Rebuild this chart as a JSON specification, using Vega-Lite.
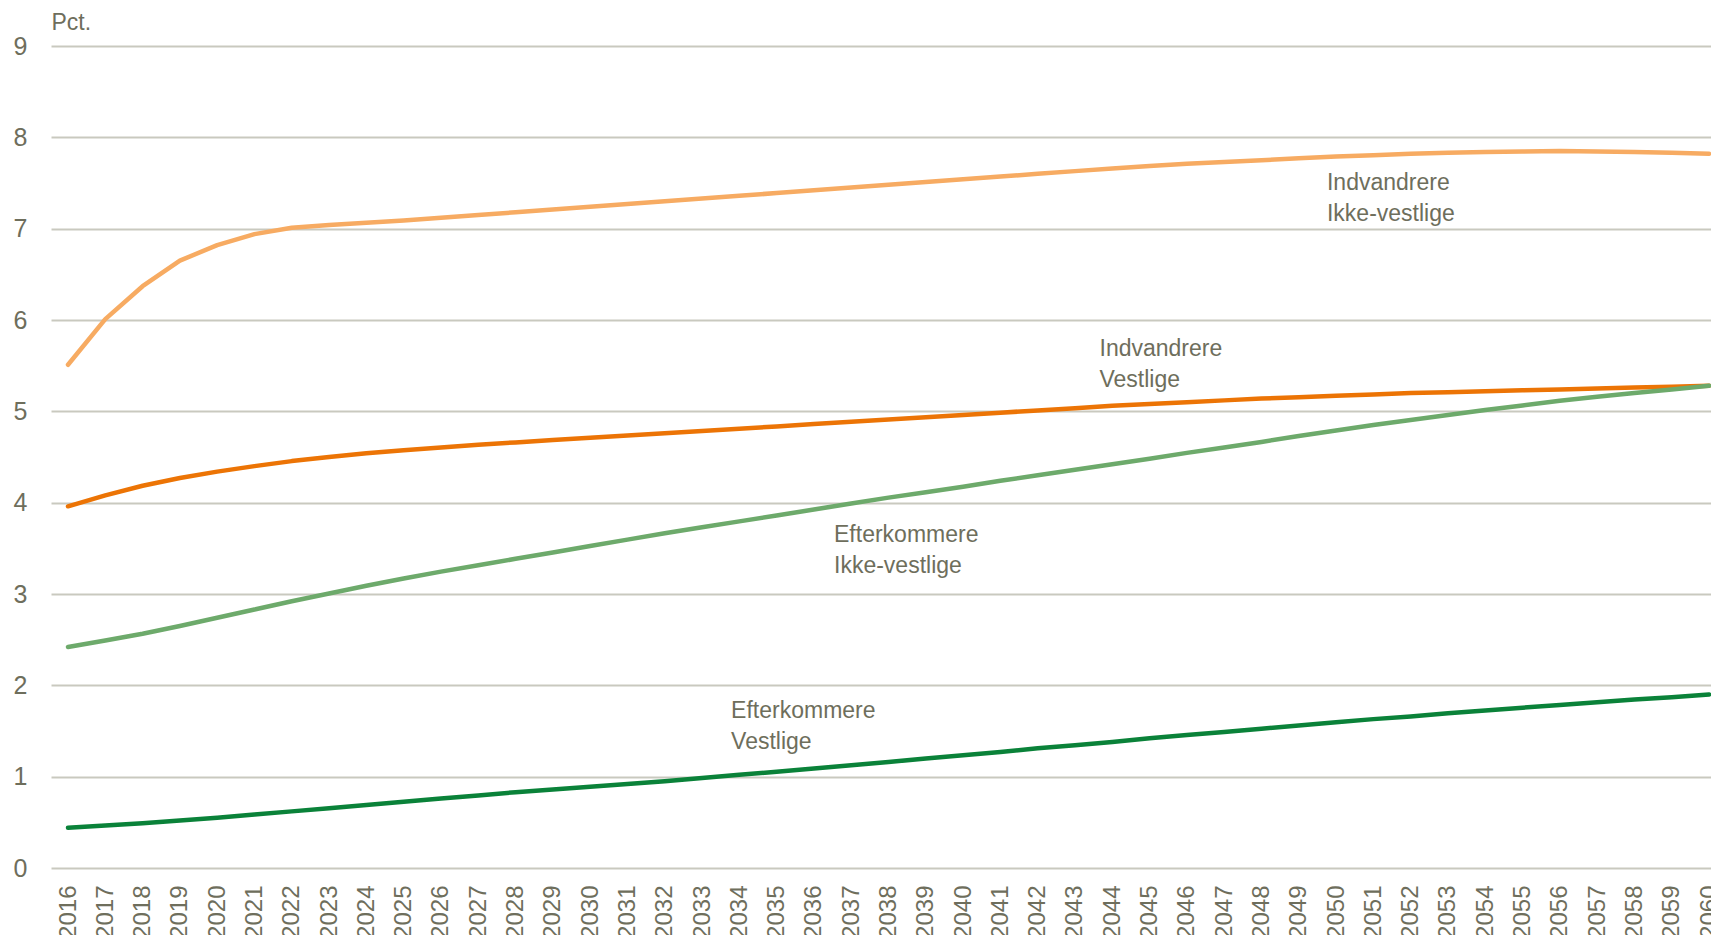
{
  "$schema": "https://vega.github.io/schema/vega-lite/v6.json",
  "autosize": {"type": "none"},
  "padding": {"left": 51, "top": 46, "right": 0, "bottom": 67},
  "width": 1660,
  "height": 822,
  "background": "white",
  "config": {
    "view": {"stroke": null},
    "font": "Liberation Sans Narrow, Arial Narrow, Liberation Sans, sans-serif",
    "axis": {"labelFont": "Liberation Sans Narrow, Arial Narrow, Liberation Sans, sans-serif", "titleFont": "Liberation Sans Narrow, Arial Narrow, Liberation Sans, sans-serif"}
  },
  "resolve": {"scale": {"x": "independent"}, "axis": {"x": "independent"}},
  "datasets": {
    "series": [
      {"year": 2016, "s": "IKV", "v": 5.51}, {"year": 2017, "s": "IKV", "v": 6.01}, {"year": 2018, "s": "IKV", "v": 6.37}, {"year": 2019, "s": "IKV", "v": 6.65}, {"year": 2020, "s": "IKV", "v": 6.82}, {"year": 2021, "s": "IKV", "v": 6.94}, {"year": 2022, "s": "IKV", "v": 7.01}, {"year": 2023, "s": "IKV", "v": 7.04}, {"year": 2024, "s": "IKV", "v": 7.065}, {"year": 2025, "s": "IKV", "v": 7.09}, {"year": 2026, "s": "IKV", "v": 7.12}, {"year": 2027, "s": "IKV", "v": 7.15}, {"year": 2028, "s": "IKV", "v": 7.18}, {"year": 2029, "s": "IKV", "v": 7.21}, {"year": 2030, "s": "IKV", "v": 7.24}, {"year": 2031, "s": "IKV", "v": 7.27}, {"year": 2032, "s": "IKV", "v": 7.30}, {"year": 2033, "s": "IKV", "v": 7.33}, {"year": 2034, "s": "IKV", "v": 7.36}, {"year": 2035, "s": "IKV", "v": 7.39}, {"year": 2036, "s": "IKV", "v": 7.42}, {"year": 2037, "s": "IKV", "v": 7.45}, {"year": 2038, "s": "IKV", "v": 7.48}, {"year": 2039, "s": "IKV", "v": 7.51}, {"year": 2040, "s": "IKV", "v": 7.54}, {"year": 2041, "s": "IKV", "v": 7.57}, {"year": 2042, "s": "IKV", "v": 7.60}, {"year": 2043, "s": "IKV", "v": 7.63}, {"year": 2044, "s": "IKV", "v": 7.66}, {"year": 2045, "s": "IKV", "v": 7.685}, {"year": 2046, "s": "IKV", "v": 7.71}, {"year": 2047, "s": "IKV", "v": 7.73}, {"year": 2048, "s": "IKV", "v": 7.75}, {"year": 2049, "s": "IKV", "v": 7.77}, {"year": 2050, "s": "IKV", "v": 7.79}, {"year": 2051, "s": "IKV", "v": 7.805}, {"year": 2052, "s": "IKV", "v": 7.82}, {"year": 2053, "s": "IKV", "v": 7.83}, {"year": 2054, "s": "IKV", "v": 7.84}, {"year": 2055, "s": "IKV", "v": 7.845}, {"year": 2056, "s": "IKV", "v": 7.85}, {"year": 2057, "s": "IKV", "v": 7.845}, {"year": 2058, "s": "IKV", "v": 7.84}, {"year": 2059, "s": "IKV", "v": 7.83}, {"year": 2060, "s": "IKV", "v": 7.82},
      {"year": 2016, "s": "IV", "v": 3.96}, {"year": 2017, "s": "IV", "v": 4.08}, {"year": 2018, "s": "IV", "v": 4.185}, {"year": 2019, "s": "IV", "v": 4.27}, {"year": 2020, "s": "IV", "v": 4.34}, {"year": 2021, "s": "IV", "v": 4.40}, {"year": 2022, "s": "IV", "v": 4.455}, {"year": 2023, "s": "IV", "v": 4.50}, {"year": 2024, "s": "IV", "v": 4.54}, {"year": 2025, "s": "IV", "v": 4.575}, {"year": 2026, "s": "IV", "v": 4.605}, {"year": 2027, "s": "IV", "v": 4.635}, {"year": 2028, "s": "IV", "v": 4.66}, {"year": 2029, "s": "IV", "v": 4.685}, {"year": 2030, "s": "IV", "v": 4.71}, {"year": 2031, "s": "IV", "v": 4.735}, {"year": 2032, "s": "IV", "v": 4.76}, {"year": 2033, "s": "IV", "v": 4.785}, {"year": 2034, "s": "IV", "v": 4.81}, {"year": 2035, "s": "IV", "v": 4.835}, {"year": 2036, "s": "IV", "v": 4.86}, {"year": 2037, "s": "IV", "v": 4.885}, {"year": 2038, "s": "IV", "v": 4.91}, {"year": 2039, "s": "IV", "v": 4.935}, {"year": 2040, "s": "IV", "v": 4.96}, {"year": 2041, "s": "IV", "v": 4.985}, {"year": 2042, "s": "IV", "v": 5.01}, {"year": 2043, "s": "IV", "v": 5.035}, {"year": 2044, "s": "IV", "v": 5.06}, {"year": 2045, "s": "IV", "v": 5.08}, {"year": 2046, "s": "IV", "v": 5.10}, {"year": 2047, "s": "IV", "v": 5.12}, {"year": 2048, "s": "IV", "v": 5.14}, {"year": 2049, "s": "IV", "v": 5.155}, {"year": 2050, "s": "IV", "v": 5.17}, {"year": 2051, "s": "IV", "v": 5.185}, {"year": 2052, "s": "IV", "v": 5.20}, {"year": 2053, "s": "IV", "v": 5.21}, {"year": 2054, "s": "IV", "v": 5.22}, {"year": 2055, "s": "IV", "v": 5.23}, {"year": 2056, "s": "IV", "v": 5.24}, {"year": 2057, "s": "IV", "v": 5.25}, {"year": 2058, "s": "IV", "v": 5.26}, {"year": 2059, "s": "IV", "v": 5.27}, {"year": 2060, "s": "IV", "v": 5.28},
      {"year": 2016, "s": "EKV", "v": 2.42}, {"year": 2017, "s": "EKV", "v": 2.49}, {"year": 2018, "s": "EKV", "v": 2.565}, {"year": 2019, "s": "EKV", "v": 2.65}, {"year": 2020, "s": "EKV", "v": 2.74}, {"year": 2021, "s": "EKV", "v": 2.83}, {"year": 2022, "s": "EKV", "v": 2.92}, {"year": 2023, "s": "EKV", "v": 3.005}, {"year": 2024, "s": "EKV", "v": 3.09}, {"year": 2025, "s": "EKV", "v": 3.17}, {"year": 2026, "s": "EKV", "v": 3.245}, {"year": 2027, "s": "EKV", "v": 3.315}, {"year": 2028, "s": "EKV", "v": 3.385}, {"year": 2029, "s": "EKV", "v": 3.455}, {"year": 2030, "s": "EKV", "v": 3.525}, {"year": 2031, "s": "EKV", "v": 3.595}, {"year": 2032, "s": "EKV", "v": 3.665}, {"year": 2033, "s": "EKV", "v": 3.73}, {"year": 2034, "s": "EKV", "v": 3.795}, {"year": 2035, "s": "EKV", "v": 3.86}, {"year": 2036, "s": "EKV", "v": 3.925}, {"year": 2037, "s": "EKV", "v": 3.99}, {"year": 2038, "s": "EKV", "v": 4.055}, {"year": 2039, "s": "EKV", "v": 4.115}, {"year": 2040, "s": "EKV", "v": 4.175}, {"year": 2041, "s": "EKV", "v": 4.24}, {"year": 2042, "s": "EKV", "v": 4.30}, {"year": 2043, "s": "EKV", "v": 4.36}, {"year": 2044, "s": "EKV", "v": 4.42}, {"year": 2045, "s": "EKV", "v": 4.48}, {"year": 2046, "s": "EKV", "v": 4.545}, {"year": 2047, "s": "EKV", "v": 4.605}, {"year": 2048, "s": "EKV", "v": 4.665}, {"year": 2049, "s": "EKV", "v": 4.73}, {"year": 2050, "s": "EKV", "v": 4.79}, {"year": 2051, "s": "EKV", "v": 4.85}, {"year": 2052, "s": "EKV", "v": 4.905}, {"year": 2053, "s": "EKV", "v": 4.96}, {"year": 2054, "s": "EKV", "v": 5.015}, {"year": 2055, "s": "EKV", "v": 5.065}, {"year": 2056, "s": "EKV", "v": 5.115}, {"year": 2057, "s": "EKV", "v": 5.16}, {"year": 2058, "s": "EKV", "v": 5.20}, {"year": 2059, "s": "EKV", "v": 5.24}, {"year": 2060, "s": "EKV", "v": 5.28},
      {"year": 2016, "s": "EV", "v": 0.44}, {"year": 2017, "s": "EV", "v": 0.465}, {"year": 2018, "s": "EV", "v": 0.49}, {"year": 2019, "s": "EV", "v": 0.52}, {"year": 2020, "s": "EV", "v": 0.55}, {"year": 2021, "s": "EV", "v": 0.585}, {"year": 2022, "s": "EV", "v": 0.62}, {"year": 2023, "s": "EV", "v": 0.655}, {"year": 2024, "s": "EV", "v": 0.69}, {"year": 2025, "s": "EV", "v": 0.725}, {"year": 2026, "s": "EV", "v": 0.76}, {"year": 2027, "s": "EV", "v": 0.795}, {"year": 2028, "s": "EV", "v": 0.83}, {"year": 2029, "s": "EV", "v": 0.86}, {"year": 2030, "s": "EV", "v": 0.89}, {"year": 2031, "s": "EV", "v": 0.92}, {"year": 2032, "s": "EV", "v": 0.95}, {"year": 2033, "s": "EV", "v": 0.985}, {"year": 2034, "s": "EV", "v": 1.02}, {"year": 2035, "s": "EV", "v": 1.055}, {"year": 2036, "s": "EV", "v": 1.09}, {"year": 2037, "s": "EV", "v": 1.125}, {"year": 2038, "s": "EV", "v": 1.16}, {"year": 2039, "s": "EV", "v": 1.20}, {"year": 2040, "s": "EV", "v": 1.235}, {"year": 2041, "s": "EV", "v": 1.27}, {"year": 2042, "s": "EV", "v": 1.31}, {"year": 2043, "s": "EV", "v": 1.345}, {"year": 2044, "s": "EV", "v": 1.38}, {"year": 2045, "s": "EV", "v": 1.42}, {"year": 2046, "s": "EV", "v": 1.455}, {"year": 2047, "s": "EV", "v": 1.49}, {"year": 2048, "s": "EV", "v": 1.525}, {"year": 2049, "s": "EV", "v": 1.56}, {"year": 2050, "s": "EV", "v": 1.595}, {"year": 2051, "s": "EV", "v": 1.63}, {"year": 2052, "s": "EV", "v": 1.66}, {"year": 2053, "s": "EV", "v": 1.695}, {"year": 2054, "s": "EV", "v": 1.725}, {"year": 2055, "s": "EV", "v": 1.755}, {"year": 2056, "s": "EV", "v": 1.785}, {"year": 2057, "s": "EV", "v": 1.815}, {"year": 2058, "s": "EV", "v": 1.845}, {"year": 2059, "s": "EV", "v": 1.87}, {"year": 2060, "s": "EV", "v": 1.90}
    ],
    "labels": [
      {"year": 2049.76, "v": 7.426, "label": "Indvandrere\nIkke-vestlige"},
      {"year": 2043.66, "v": 5.608, "label": "Indvandrere\nVestlige"},
      {"year": 2036.54, "v": 3.574, "label": "Efterkommere\nIkke-vestlige"},
      {"year": 2033.78, "v": 1.646, "label": "Efterkommere\nVestlige"}
    ]
  },
  "layer": [
    {
      "data": {"name": "series"},
      "mark": {"type": "line", "strokeWidth": 4.5, "strokeCap": "round", "strokeJoin": "round", "clip": false},
      "encoding": {
        "x": {
          "field": "year", "type": "ordinal",
          "scale": {"type": "point", "padding": 0.2547, "align": 0.895},
          "axis": {
            "title": null, "orient": "bottom",
            "labelAngle": -90, "labelFontSize": 24, "labelColor": "#6E6E5C", "labelAlign": "right", "labelBaseline": "middle",
            "labelPadding": 17, "ticks": false, "domain": false, "grid": false,
            "labelOverlap": false, "labelBound": false, "labelFlush": false
          }
        },
        "y": {
          "field": "v", "type": "quantitative",
          "scale": {"domain": [0, 9], "nice": false},
          "axis": {
            "title": "Pct.", "titleAngle": 0, "titleX": 0, "titleY": -17, "titleAlign": "left", "titleBaseline": "alphabetic",
            "titleFontSize": 23, "titleFontWeight": "normal", "titleColor": "#6E6E5C",
            "values": [0,1,2,3,4,5,6,7,8,9], "format": "d", "labelFontSize": 25, "labelColor": "#6E6E5C", "labelPadding": 24,
            "ticks": false, "domain": false, "grid": true, "gridColor": "#C9C9BF", "gridWidth": 2
          }
        },
        "color": {
          "field": "s", "type": "nominal",
          "scale": {"domain": ["IKV", "IV", "EKV", "EV"], "range": ["#F7AB62", "#EC7405", "#6DAA6B", "#0A8239"]},
          "legend": null
        }
      }
    },
    {
      "data": {"name": "labels"},
      "mark": {"type": "text", "align": "left", "baseline": "alphabetic", "lineBreak": "\n", "lineHeight": 31, "fontSize": 23, "color": "#6E6E5C", "font": "Liberation Sans Narrow, Arial Narrow, Liberation Sans, sans-serif"},
      "encoding": {
        "x": {"field": "year", "type": "quantitative", "scale": {"domain": [2015.54, 2060.06], "nice": false, "zero": false}, "axis": null},
        "y": {"field": "v", "type": "quantitative"},
        "text": {"field": "label"}
      }
    }
  ]
}
